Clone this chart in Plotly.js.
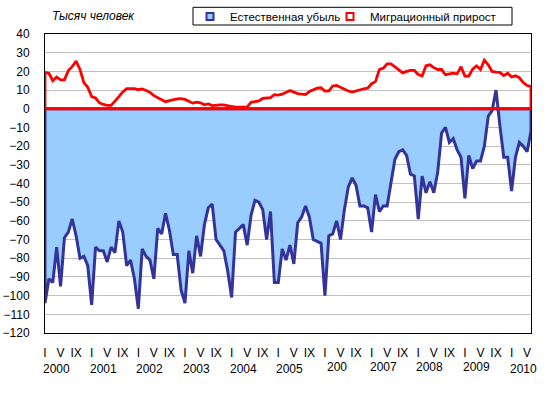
<!DOCTYPE html>
<html>
<head>
<meta charset="utf-8">
<script src="https://cdn.plot.ly/plotly-3.0.1.min.js"></script>
<style>html,body{margin:0;padding:0;background:#fff;}#chart{width:548px;height:395px;}</style>
</head>
<body>
<div id="chart"></div>
<script>
// ---- data (thousand persons, monthly, Jan 2000 – Jun 2010) ----
const yearLabels = ['2000','2001','2002','2003','2004','2005','200','2007','2008','2009','2010'];
const monthTickLabels = ['I','V','IX'];
const monthTickMonths = [0, 4, 8];
const seriesNames = ['Естественная убыль', 'Миграционный прирост'];
const unitLabel = 'Тысяч человек';

const naturalDecrease = [
  -104,-91,-93,-74,-95,-69,-66,-59,-68,-80,-79,-84,
  -105,-74,-76,-76,-82,-74,-77,-60,-66,-84,-81,-91,
  -107,-75,-79,-81,-91,-64,-67,-56,-65,-78,-78,-97,
  -104,-76,-88,-68,-79,-62,-53,-51,-70,-73,-76,-87,
  -101,-66,-64,-62,-73,-57,-49,-50,-54,-70,-55,-93,
  -93,-75,-81,-73,-83,-61,-58,-52,-58,-70,-71,-72,
  -100,-68,-67,-60,-70,-54,-42,-37,-41,-52,-52,-53,
  -66,-46,-55,-52,-52,-40,-27,-23,-22,-25,-35,-36,
  -59,-36,-45,-39,-45,-34,-13,-10,-18,-16,-22,-26,
  -48,-25,-32,-28,-28,-20,-4,-1,10,-9,-26,-26,
  -44,-26,-18,-20,-23,-12
];
const migrationGrowth = [
  19.4,19,15,17,15.5,15.5,20.5,22.5,25.5,21,14,11.5,
  6.5,5.8,3.2,2.3,1.8,1.8,4,6.5,9,10.8,10.8,10.8,
  10.2,10.6,9.8,8.8,7,5.9,5,3.8,4.3,5,5.3,5.4,
  5,4,3,3.5,3.2,2.1,2.6,1.7,2,2.1,2.1,1.5,
  1.2,0.9,0.9,0.9,1,3.4,3.9,4.2,5.5,5.7,6,7.5,
  7.3,7.8,8.6,9.8,8.9,8.1,7.8,7.6,9.2,10,11,11.2,
  9.5,9.6,12.2,12.5,11.4,10.4,9.5,8.9,9.5,10.3,10.7,11,
  13.4,14.5,21,21.7,24,24,22.5,21,19.2,20,20.5,20.5,
  18.3,17.5,23,23.5,22,21,21,18.2,18.7,19.1,18.7,22.5,
  17.5,17.5,21.2,23,21,26,23.5,20,19.6,19.5,17.8,19,
  17,17.6,16.6,14,12.4,11.9
];

// ---- derived positions ----
const n = naturalDecrease.length;
const idx = naturalDecrease.map((_, i) => i);
const last = n - 1;
const closedX = [0].concat(idx, [last, 0]);
const natClosedY = [0].concat(naturalDecrease, [0, 0]);
const migClosedY = [0].concat(migrationGrowth, [0, 0]);
const natFillY = naturalDecrease.map(v => Math.min(v, 0));

const tickvals = [], ticktext = [];
yearLabels.forEach((_, k) => {
  monthTickMonths.forEach((m, j) => {
    const p = k * 12 + m;
    if (p <= last) { tickvals.push(p); ticktext.push(monthTickLabels[j]); }
  });
});

// plot area in pixels (for paper-coordinate conversion of decorations)
const PL = 45, PR = 531, PT = 34, PB = 333;
const px2x = p => (p - PL) / (PR - PL);
const px2y = p => (PB - p) / (PB - PT);

const BLUE_LINE = '#333399', BLUE_FILL = '#99CCFF', RED = '#FF0000';
const FONT = '"Liberation Sans", Arial, sans-serif';

const traces = [
  { x: idx, y: natFillY, type: 'scatter', mode: 'none', fill: 'tozeroy',
    fillcolor: BLUE_FILL, showlegend: false, hoverinfo: 'skip' },
  { x: closedX, y: natClosedY, type: 'scatter', mode: 'lines',
    line: { color: BLUE_LINE, width: 3 }, showlegend: false, hoverinfo: 'skip' },
  { x: closedX, y: migClosedY, type: 'scatter', mode: 'lines',
    line: { color: RED, width: 2.8 }, showlegend: false, hoverinfo: 'skip' },
  { x: [null], y: [null], type: 'scatter', mode: 'markers', name: seriesNames[0], legend: 'legend',
    marker: { symbol: 'square', size: 7, color: BLUE_FILL, line: { color: BLUE_LINE, width: 2 } } },
  { x: [null], y: [null], type: 'scatter', mode: 'markers', name: seriesNames[1], legend: 'legend2',
    marker: { symbol: 'square', size: 7, color: '#FFFFFF', line: { color: RED, width: 2 } } }
];

const annotations = yearLabels.map((yl, k) => ({
  x: k * 12 + 3.0, xref: 'x', y: (k >= 6 && k <= 9) ? -0.113 : -0.122, yref: 'paper',
  text: yl, showarrow: false, xanchor: 'center', yanchor: 'middle',
  font: { family: FONT, size: 12, color: '#000' }
}));
annotations.push({
  x: px2x(50), xref: 'paper', y: px2y(16), yref: 'paper', text: '<i>' + unitLabel + '</i>',
  showarrow: false, xanchor: 'left', yanchor: 'middle',
  font: { family: FONT, size: 12, color: '#000' }
});

const legendCommon = {
  orientation: 'h', xanchor: 'left', y: px2y(16.5), yanchor: 'middle',
  borderwidth: 0, bgcolor: 'rgba(0,0,0,0)', itemwidth: 30,
  font: { family: FONT, size: 11.5, color: '#000' }
};

const layout = {
  width: 548, height: 395,
  margin: { l: PL, r: 548 - PR, t: PT, b: 395 - PB, pad: 0, autoexpand: false },
  paper_bgcolor: '#FFFFFF', plot_bgcolor: '#FFFFFF',
  font: { family: FONT, size: 12, color: '#000' },
  showlegend: true,
  legend: Object.assign({}, legendCommon, { x: px2x(190) }),
  legend2: Object.assign({}, legendCommon, { x: px2x(330) }),
  xaxis: {
    range: [0, last], tickmode: 'array', tickvals: tickvals, ticktext: ticktext,
    showgrid: false, zeroline: false, showline: true, mirror: true,
    linecolor: '#000', linewidth: 1, ticks: '', ticklabelstandoff: 9,
    tickfont: { family: FONT, size: 12, color: '#000' }, fixedrange: true
  },
  yaxis: {
    range: [-120, 40], dtick: 10, tick0: 0, showgrid: true, gridcolor: '#C0C0C0', gridwidth: 1,
    zeroline: false, showline: true, mirror: true, linecolor: '#000', linewidth: 1,
    ticks: '', ticklabelstandoff: 12,
    tickfont: { family: FONT, size: 12, color: '#000' }, fixedrange: true
  },
  shapes: [{
    type: 'rect', xref: 'paper', yref: 'paper', layer: 'below',
    x0: px2x(193), x1: px2x(512), y0: px2y(25), y1: px2y(7.3),
    line: { color: '#000', width: 1 }, fillcolor: 'rgba(0,0,0,0)'
  }],
  annotations: annotations
};

Plotly.newPlot('chart', traces, layout, { staticPlot: true, displayModeBar: false });
</script>
</body>
</html>
